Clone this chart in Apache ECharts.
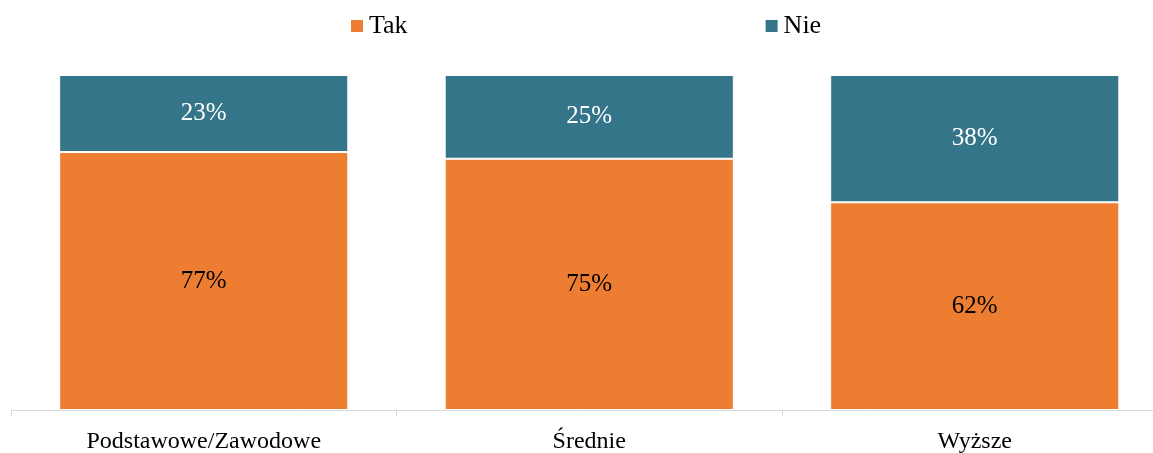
<!DOCTYPE html>
<html><head><meta charset="utf-8">
<script src="https://cdn.jsdelivr.net/npm/echarts@6/dist/echarts.min.js"></script>
<style>html,body{margin:0;padding:0;background:#fff}#c{width:1153px;height:453px}</style>
</head><body><div id="c"></div>
<script>
const categories = ['Podstawowe/Zawodowe', 'Średnie', 'Wyższe'];
const takValues = [77, 75, 62];
const nieValues = [23, 25, 38];
const seriesNames = ['Tak', 'Nie'];

const font = '"Liberation Serif", "Times New Roman", serif';
const chart = echarts.init(document.getElementById('c'), null, {renderer: 'canvas'});
chart.setOption({
  animation: false,
  textStyle: {fontFamily: font},
  legend: {
    top: 8, left: 344, itemGap: 356, itemWidth: 14, itemHeight: 14,
    icon: 'rect',
    textStyle: {fontFamily: font, fontSize: 26, color: '#000'},
    data: seriesNames
  },
  grid: {left: 11, width: 1156.5, top: 75, bottom: 43, containLabel: false, outerBoundsMode: 'none'},
  xAxis: {
    type: 'category', data: categories, boundaryGap: true,
    axisLine: {lineStyle: {color: '#d9d9d9', width: 1}},
    axisTick: {show: true, length: 6, lineStyle: {color: '#d9d9d9'}},
    axisLabel: {fontFamily: font, fontSize: 24, color: '#000', margin: 20}
  },
  yAxis: {type: 'value', min: 0, max: 100, show: false, splitLine: {show: false}},
  series: [
    {
      name: 'Tak', type: 'bar', stack: 'a', data: takValues, barWidth: '75%',
      itemStyle: {color: '#ED7D31', borderColor: '#fff', borderWidth: 1},
      label: {show: true, position: 'inside', formatter: '{c}%', fontFamily: font, fontSize: 25, color: '#000'}
    },
    {
      name: 'Nie', type: 'bar', stack: 'a', data: nieValues, barWidth: '75%',
      itemStyle: {color: '#34758A', borderColor: '#fff', borderWidth: 1},
      label: {show: true, position: 'inside', formatter: '{c}%', fontFamily: font, fontSize: 25, color: '#fff'}
    }
  ]
});
</script></body></html>
